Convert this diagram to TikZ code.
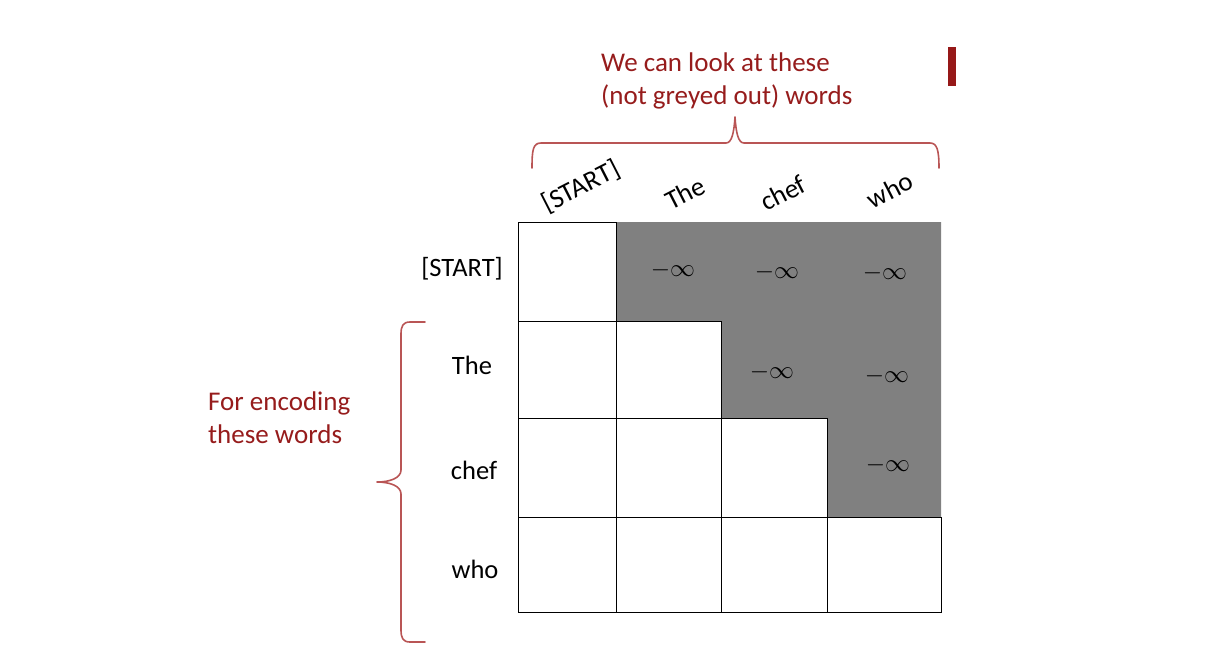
\documentclass[tikz,border=0pt]{standalone}
\usepackage{fontspec}
\setmainfont{Carlito}
\definecolor{txtred}{RGB}{150,28,28}
\definecolor{bracered}{RGB}{185,85,85}
\definecolor{barred}{RGB}{150,24,24}
\definecolor{maskgray}{RGB}{128,128,128}
\tikzset{
  lbl/.style={font=\fontsize{26.5}{32}\selectfont, inner sep=0pt},
  redlbl/.style={lbl, font=\fontsize{27}{32.5}\selectfont, text=txtred, align=left},
  collbl/.style={lbl, font=\fontsize{27}{32}\selectfont, rotate=27},
  inf/.style={font=\fontsize{24}{28}\selectfont, inner sep=0pt},
  cellbox/.style={draw=black, line width=1pt, fill=white},
  bracepath/.style={draw=bracered, line width=1.6pt, line cap=round, line join=round},
}
\begin{document}
\begin{tikzpicture}[x=1pt, y=-1pt]
\useasboundingbox (0,0) rectangle (1210,665);
% gray masked region
\fill[maskgray] (614,222) -- (941,222) -- (941,518) -- (827,518) -- (827,418) -- (721,418) -- (721,321) -- (614,321) -- cycle;
% white cells (lower triangle incl. diagonal)
\draw[cellbox] (518,222) rectangle (616,321);
\draw[cellbox] (518,321) rectangle (616,418);
\draw[cellbox] (616,321) rectangle (721,418);
\draw[cellbox] (518,418) rectangle (616,517);
\draw[cellbox] (616,418) rectangle (721,517);
\draw[cellbox] (721,418) rectangle (827,517);
\draw[cellbox] (518,517) rectangle (616,612);
\draw[cellbox] (616,517) rectangle (721,612);
\draw[cellbox] (721,517) rectangle (827,612);
\draw[cellbox] (827,517) rectangle (941,612);
% minus infinity entries
\node[inf] (i12) at (673,270) {$-\infty$};
\node[inf] (i13) at (777,272) {$-\infty$};
\node[inf] (i14) at (885,273) {$-\infty$};
\node[inf] (i23) at (772,372) {$-\infty$};
\node[inf] (i24) at (887,376) {$-\infty$};
\node[inf] (i34) at (888,465) {$-\infty$};
% row labels
\node[lbl, anchor=east] (r1) at (503,269) {[START]};
\node[lbl] (r2) at (472,365) {The};
\node[lbl] (r3) at (474,470) {chef};
\node[lbl] (r4) at (475,569) {who};
% column labels
\node[collbl] (c1) at (581,187) {[START]};
\node[collbl] (c2) at (685,193) {The};
\node[collbl] (c3) at (783,193) {chef};
\node[collbl] (c4) at (890,190) {who};
% top annotation
\node[redlbl, anchor=north west] (topnote) at (601,53) {We can look at these\\(not greyed out) words};
\coordinate (tb) at (735,117);
\draw[bracepath] (532,168) .. controls (532,150) and (533,143) .. (541,143) -- (726,143) .. controls (732,143) and (734,132) .. (tb) .. controls (736,132) and (738,143) .. (744,143) -- (930,143) .. controls (937,143) and (939,150) .. (939,168);
% left annotation
\node[redlbl, anchor=north west] (leftnote) at (208,392) {For encoding\\these words};
\coordinate (lb) at (377,482);
\draw[bracepath] (425,322) -- (410,322) .. controls (403,322) and (401,326) .. (401,334) -- (401,470) .. controls (401,478) and (390,482) .. (lb) .. controls (390,482) and (401,486) .. (401,494) -- (401,630) .. controls (401,638) and (403,642) .. (410,642) -- (425,642);
% red bar
\fill[barred] (948,47) rectangle (956,86);
\end{tikzpicture}
\end{document}
